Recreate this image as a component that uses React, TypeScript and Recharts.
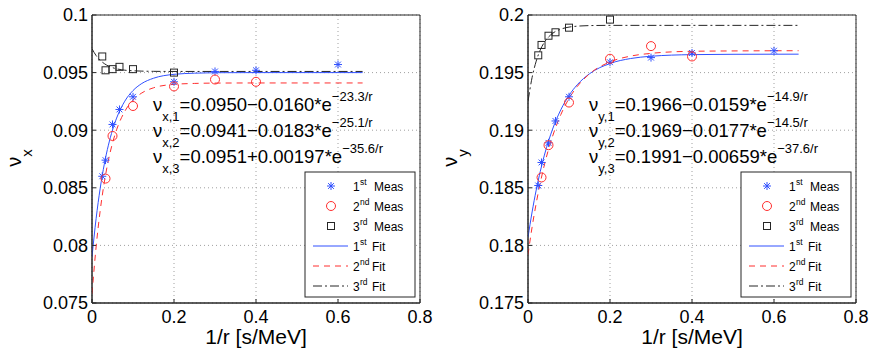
import React from "react";
import { ComposedChart, Scatter, Line, XAxis, YAxis, CartesianGrid, ReferenceArea } from "recharts";

// ---- shared axis data ----
const xTicks = [0, 0.2, 0.4, 0.6, 0.8];
const nuxTicks = [0.075, 0.08, 0.085, 0.09, 0.095, 0.1];
const nuyTicks = [0.175, 0.18, 0.185, 0.19, 0.195, 0.2];

const nuxMeas1X = [0.025, 0.033, 0.05, 0.067, 0.1, 0.2, 0.3, 0.4, 0.6];
const nuxMeas1Y = [0.086, 0.0874, 0.0905, 0.0918, 0.0929, 0.0942, 0.0951, 0.0952, 0.0957];
const nuxMeas2X = [0.033, 0.05, 0.1, 0.2, 0.3, 0.4];
const nuxMeas2Y = [0.0858, 0.0895, 0.0921, 0.0938, 0.0944, 0.0942];
const nuxMeas3X = [0.025, 0.033, 0.05, 0.067, 0.1, 0.2];
const nuxMeas3Y = [0.0964, 0.0952, 0.0953, 0.0955, 0.0953, 0.095];

// ---- nu_y measurements ----
const nuyMeas1X = [0.025, 0.033, 0.05, 0.067, 0.1, 0.2, 0.3, 0.4, 0.6];
const nuyMeas1Y = [0.1852, 0.1872, 0.1889, 0.1908, 0.1929, 0.1959, 0.1963, 0.1967, 0.1969];
const nuyMeas2X = [0.033, 0.05, 0.1, 0.2, 0.3, 0.4];
const nuyMeas2Y = [0.1859, 0.1887, 0.1924, 0.1962, 0.1973, 0.1964];
const nuyMeas3X = [0.025, 0.033, 0.05, 0.067, 0.1, 0.2];
const nuyMeas3Y = [0.1965, 0.1974, 0.1982, 0.1985, 0.1989, 0.1996];

// ---- fitted curves, sampled along 1/r ----
const fitX = [0, 0.01, 0.02, 0.03, 0.04, 0.05, 0.06, 0.08, 0.1, 0.12, 0.15, 0.2, 0.25, 0.3, 0.4, 0.5, 0.66];
const nuxFit1 = [0.079, 0.08232, 0.08496, 0.08705, 0.0887, 0.09001, 0.09105, 0.09252, 0.09344, 0.09402, 0.09451, 0.09485, 0.09495, 0.09499, 0.095, 0.095, 0.095];
const nuxFit2 = [0.0758, 0.07986, 0.08302, 0.08548, 0.08739, 0.08888, 0.09004, 0.09164, 0.09261, 0.0932, 0.09368, 0.09398, 0.09406, 0.09409, 0.0941, 0.0941, 0.0941];
const nuxFit3 = [0.09707, 0.09648, 0.09607, 0.09578, 0.09557, 0.09543, 0.09533, 0.09521, 0.09516, 0.09513, 0.09511, 0.0951, 0.0951, 0.0951, 0.0951, 0.0951, 0.0951];
const nuyFit1 = [0.1807, 0.1829, 0.1848, 0.18643, 0.18784, 0.18905, 0.1901, 0.19177, 0.19302, 0.19394, 0.1949, 0.19579, 0.19622, 0.19642, 0.19656, 0.19659, 0.1966];
const nuyFit2 = [0.1792, 0.18159, 0.18365, 0.18544, 0.18699, 0.18833, 0.18948, 0.19135, 0.19275, 0.19379, 0.19489, 0.19593, 0.19643, 0.19667, 0.19685, 0.19688, 0.1969];
const nuyFit3 = [0.19251, 0.19458, 0.19599, 0.19697, 0.19764, 0.19809, 0.19841, 0.19877, 0.19895, 0.19903, 0.19908, 0.1991, 0.1991, 0.1991, 0.1991, 0.1991, 0.1991];

// ---- text ----
const nuxEqs = [
  { sub: "x,1", body: "=0.0950\u22120.0160*e", exp: "\u221223.3/r" },
  { sub: "x,2", body: "=0.0941\u22120.0183*e", exp: "\u221225.1/r" },
  { sub: "x,3", body: "=0.0951+0.00197*e", exp: "\u221235.6/r" },
];
const nuyEqs = [
  { sub: "y,1", body: "=0.1966\u22120.0159*e", exp: "\u221214.9/r" },
  { sub: "y,2", body: "=0.1969\u22120.0177*e", exp: "\u221214.5/r" },
  { sub: "y,3", body: "=0.1991\u22120.00659*e", exp: "\u221237.6/r" },
];
const legendOrd = ["1", "2", "3", "1", "2", "3"];
const legendSup = ["st", "nd", "rd", "st", "nd", "rd"];
const legendWord = ["Meas", "Meas", "Meas", "Fit", "Fit", "Fit"];

const FONT = '"Liberation Sans", Arial, Helvetica, sans-serif';
const BLUE = "#3050ff";
const RED = "#ff2e2e";
const DARK = "#262626";
const W = 436;
const H = 351;

const pts = (xs: number[], ys: number[]) => xs.map((x, i) => ({ x, y: ys[i] }));

const StarMark = ({ cx, cy }: any) => {
  const r = 4;
  const d = 2.9;
  return (
    <g stroke={BLUE} strokeWidth={1}>
      <line x1={cx - r} y1={cy} x2={cx + r} y2={cy} />
      <line x1={cx} y1={cy - r} x2={cx} y2={cy + r} />
      <line x1={cx - d} y1={cy - d} x2={cx + d} y2={cy + d} />
      <line x1={cx - d} y1={cy + d} x2={cx + d} y2={cy - d} />
    </g>
  );
};
const CircleMark = ({ cx, cy }: any) => <circle cx={cx} cy={cy} r={4.5} fill="none" stroke={RED} strokeWidth={1} />;
const SquareMark = ({ cx, cy }: any) => (
  <rect x={cx - 3.5} y={cy - 3.5} width={7} height={7} fill="none" stroke={DARK} strokeWidth={1} />
);

const legendIcon = (i: number, y: number) => {
  if (i === 0) return <StarMark cx={331} cy={y} />;
  if (i === 1) return <CircleMark cx={331} cy={y} />;
  if (i === 2) return <SquareMark cx={331} cy={y} />;
  const dash = i === 3 ? undefined : i === 4 ? "6 5" : "9 3 2 3";
  const col = i === 3 ? BLUE : i === 4 ? RED : DARK;
  return <line x1={313} x2={348} y1={y} y2={y} stroke={col} strokeDasharray={dash} />;
};

function TunePlot({ axisSub, yDomain, yTicks, m1, m2, m3, f1, f2, f3, eqs }: any) {
  const tick = { fontSize: 18, fill: "#000", fontFamily: FONT };
  return (
    <div style={{ position: "relative", width: W, height: H }}>
      <ComposedChart width={W} height={H} margin={{ top: 15, right: 16, bottom: 0, left: 0 }}>
        <CartesianGrid stroke="#a0a0a0" strokeDasharray="1 3" />
        <XAxis
          type="number"
          dataKey="x"
          domain={[0, 0.8]}
          ticks={xTicks}
          allowDataOverflow
          height={48}
          tickSize={-4}
          tickLine={{ stroke: DARK }}
          tickMargin={11}
          axisLine={{ stroke: DARK }}
          tick={tick}
          tickFormatter={(v) => String(v)}
          label={{ value: "1/r [s/MeV]", position: "insideBottom", offset: 7, fontSize: 21, fill: "#000", fontFamily: FONT }}
        />
        <XAxis
          xAxisId="top"
          orientation="top"
          type="number"
          dataKey="x"
          domain={[0, 0.8]}
          ticks={xTicks}
          allowDataOverflow
          height={0}
          tickSize={-4}
          tickLine={{ stroke: DARK }}
          tick={false}
          axisLine={false}
        />
        <YAxis
          type="number"
          domain={yDomain}
          ticks={yTicks}
          allowDataOverflow
          width={92}
          tickSize={-4}
          tickLine={{ stroke: DARK }}
          tickMargin={8}
          axisLine={{ stroke: DARK }}
          tick={tick}
          tickFormatter={(v) => String(v)}
        />
        <YAxis
          yAxisId="right"
          orientation="right"
          type="number"
          domain={yDomain}
          ticks={yTicks}
          allowDataOverflow
          width={0}
          tickSize={-4}
          tickLine={{ stroke: DARK }}
          tick={false}
          axisLine={false}
        />
        <ReferenceArea x1={0} x2={0.8} y1={yDomain[0]} y2={yDomain[1]} fill="none" stroke={DARK} ifOverflow="visible" />
        <Scatter data={m1} dataKey="y" shape={StarMark} isAnimationActive={false} />
        <Scatter data={m2} dataKey="y" shape={CircleMark} isAnimationActive={false} />
        <Scatter data={m3} dataKey="y" shape={SquareMark} isAnimationActive={false} />
        <Line data={f1} dataKey="y" type="monotone" stroke={BLUE} strokeWidth={1} dot={false} activeDot={false} isAnimationActive={false} />
        <Line data={f2} dataKey="y" type="monotone" stroke={RED} strokeWidth={1} strokeDasharray="6 5" dot={false} activeDot={false} isAnimationActive={false} />
        <Line data={f3} dataKey="y" type="monotone" stroke={DARK} strokeWidth={1} strokeDasharray="9 3 2 3" dot={false} activeDot={false} isAnimationActive={false} />
      </ComposedChart>
      <svg width={W} height={H} style={{ position: "absolute", left: 0, top: 0, pointerEvents: "none" }} fontFamily={FONT}>
        <text x={21} y={158} transform="rotate(-90 21 158)" textAnchor="middle" fontSize={20} fill="#000">
          ν<tspan fontSize={15} dy={11}>{axisSub}</tspan>
        </text>
        {eqs.map((e: any, i: number) => (
          <text key={i} x={153} y={111 + i * 26} fontSize={18.5} fill="#000">
            ν<tspan fontSize={13} dy={10}>{e.sub}</tspan>
            <tspan fontSize={18.5} dy={-10}>{e.body}</tspan>
            <tspan fontSize={13} dy={-10}>{e.exp}</tspan>
          </text>
        ))}
        <rect x={305} y={172} width={110} height={125} fill="#fff" stroke={DARK} />
        {legendWord.map((w, i) => {
          const y = 186 + i * 20;
          return (
            <g key={i}>
              {legendIcon(i, y)}
              <text y={y + 5} fontSize={12} fill="#000">
                <tspan x={353}>{legendOrd[i]}</tspan>
                <tspan x={360} dy={-6} fontSize={8.5}>{legendSup[i]}</tspan>
                <tspan x={i < 3 ? 374 : 372} dy={6}>{w}</tspan>
              </text>
            </g>
          );
        })}
      </svg>
    </div>
  );
}

export default function App() {
  return (
    <div style={{ position: "absolute", left: 0, top: 0, width: 872, height: 351, display: "flex", background: "#fff" }}>
      <TunePlot
        axisSub="x"
        yDomain={[0.075, 0.1]}
        yTicks={nuxTicks}
        m1={pts(nuxMeas1X, nuxMeas1Y)}
        m2={pts(nuxMeas2X, nuxMeas2Y)}
        m3={pts(nuxMeas3X, nuxMeas3Y)}
        f1={pts(fitX, nuxFit1)}
        f2={pts(fitX, nuxFit2)}
        f3={pts(fitX, nuxFit3)}
        eqs={nuxEqs}
      />
      <TunePlot
        axisSub="y"
        yDomain={[0.175, 0.2]}
        yTicks={nuyTicks}
        m1={pts(nuyMeas1X, nuyMeas1Y)}
        m2={pts(nuyMeas2X, nuyMeas2Y)}
        m3={pts(nuyMeas3X, nuyMeas3Y)}
        f1={pts(fitX, nuyFit1)}
        f2={pts(fitX, nuyFit2)}
        f3={pts(fitX, nuyFit3)}
        eqs={nuyEqs}
      />
    </div>
  );
}
